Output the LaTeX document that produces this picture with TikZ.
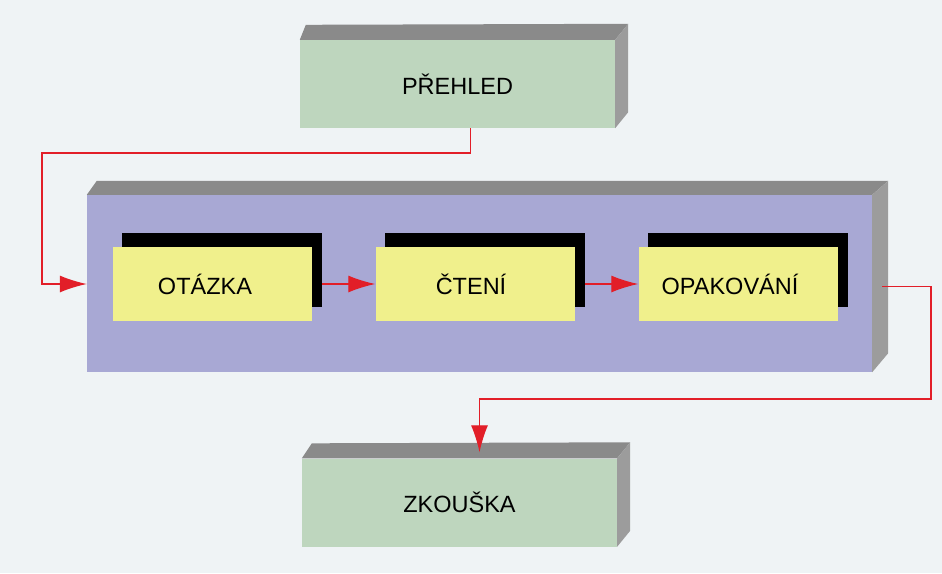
\documentclass[tikz,border=0pt]{standalone}
\usepackage{fontspec}
\setmainfont{Liberation Sans}
\usetikzlibrary{arrows.meta,positioning}

\definecolor{paper}{RGB}{239,243,245}
\definecolor{boxgreen}{RGB}{190,214,190}
\definecolor{boxblue}{RGB}{168,168,212}
\definecolor{boxyellow}{RGB}{240,240,140}
\definecolor{topgray}{RGB}{138,138,138}
\definecolor{sidegray}{RGB}{156,156,156}
\definecolor{flowred}{RGB}{226,30,40}

\begin{document}
\begin{tikzpicture}[x=1pt,y=-1pt,node distance=263pt,
  face/.style={inner sep=0pt,font=\fontsize{23.5}{28}\selectfont},
  block/.style={face,fill=boxgreen,minimum width=315pt,minimum height=88pt},
  stage/.style={face,fill=boxyellow,minimum width=199pt,minimum height=74pt},
  blackbox/.style={inner sep=0pt,fill=black,minimum width=200pt,minimum height=74pt},
  flow/.style={draw=flowred,line width=1.3pt,-{Latex[length=27pt,width=17pt]}}]
\useasboundingbox[fill=paper] (0,0) rectangle (942,573);

\node[face,fill=boxblue,minimum width=785pt,minimum height=177pt] (main) at (479.5,283.5) {};
\fill[topgray] (main.north west) -- ([shift={(10,-14)}]main.north west)
  -- ([shift={(16,-14)}]main.north east) -- (main.north east) -- cycle;
\fill[sidegray] (main.north east) -- ([shift={(16,-14)}]main.north east)
  -- ([shift={(16,-19)}]main.south east) -- (main.south east) -- cycle;

\node[blackbox] (otazkash) at (222,270) {};
\node[blackbox,right of=otazkash] (ctenish) {};
\node[blackbox,right of=ctenish] (opaksh) {};
\node[stage] (otazka) at ([shift={(-10,14)}]otazkash.center) {\kern-14pt OTÁZKA};
\node[stage] (cteni) at ([shift={(-10,14)}]ctenish.center) {\kern-8pt ČTENÍ};
\node[stage] (opak) at ([shift={(-10,14)}]opaksh.center) {\kern-16pt OPAKOVÁNÍ};

\node[block] (prehled) at (457.5,84) {PŘEHLED};
\fill[topgray] (prehled.north west) -- ([shift={(6,-15)}]prehled.north west)
  -- ([shift={(13,-16)}]prehled.north east) -- (prehled.north east) -- cycle;
\fill[sidegray] (prehled.north east) -- ([shift={(13,-16)}]prehled.north east)
  -- ([shift={(13,-16)}]prehled.south east) -- (prehled.south east) -- cycle;

\node[block] (zkouska) at (459.5,502.5) {ZKOUŠKA};
\fill[topgray] (zkouska.north west) -- ([shift={(10,-15)}]zkouska.north west)
  -- ([shift={(13,-16)}]zkouska.north east) -- (zkouska.north east) -- cycle;
\fill[sidegray] (zkouska.north east) -- ([shift={(13,-16)}]zkouska.north east)
  -- ([shift={(13,-16)}]zkouska.south east) -- (zkouska.south east) -- cycle;

\coordinate (in) at (42,153);
\coordinate (out) at (931,399);
\draw[flow] ([xshift=13pt]prehled.south) |- (in) |- (main.west |- otazka);
\draw[flow] (otazkash.east |- otazka) -- (cteni.west);
\draw[flow] (ctenish.east |- cteni) -- (opak.west);
\draw[flow] ([shift={(10,3)}]main.east) -| (out) -| ([shift={(20,-6)}]zkouska.north);
\end{tikzpicture}
\end{document}
